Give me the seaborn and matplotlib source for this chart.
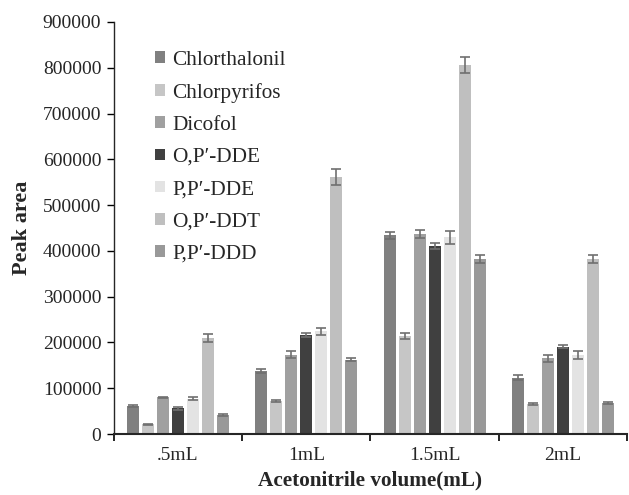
import matplotlib
matplotlib.use("Agg")
import matplotlib.pyplot as plt
import seaborn as sns
import pandas as pd
import numpy as np

volumes = [".5mL", "1mL", "1.5mL", "2mL"]
compounds = ["Chlorthalonil", "Chlorpyrifos", "Dicofol", "O,P\u2032-DDE",
             "P,P\u2032-DDE", "O,P\u2032-DDT", "P,P\u2032-DDD"]
colors = ["#808080", "#c6c6c6", "#a0a0a0", "#404040", "#e3e3e3", "#bfbfbf", "#999999"]

chlorthalonil = [62000, 138000, 434000, 123000]
chlorpyrifos = [21000, 72000, 215000, 65000]
dicofol = [80000, 173000, 437000, 165000]
op_dde = [56000, 216000, 411000, 191000]
pp_dde = [77000, 224000, 430000, 172000]
op_ddt = [210000, 561000, 806000, 383000]
pp_ddd = [41500, 162000, 383000, 68000]

chlorthalonil_err = [2000, 5000, 7000, 5000]
chlorpyrifos_err = [1500, 2000, 6500, 2000]
dicofol_err = [1500, 8000, 9000, 7000]
op_dde_err = [2500, 5000, 6500, 4000]
pp_dde_err = [3000, 8000, 14500, 9000]
op_ddt_err = [9000, 18000, 17000, 9000]
pp_ddd_err = [1500, 3500, 9000, 3000]

values = [chlorthalonil, chlorpyrifos, dicofol, op_dde, pp_dde, op_ddt, pp_ddd]
errors = [chlorthalonil_err, chlorpyrifos_err, dicofol_err, op_dde_err,
          pp_dde_err, op_ddt_err, pp_ddd_err]

rows = []
for c, vals, errs in zip(compounds, values, errors):
    for v, val, e in zip(volumes, vals, errs):
        rows.append({"Volume": v, "Compound": c, "Peak area": val, "err": e})
df = pd.DataFrame(rows)

sns.set_style("ticks")
plt.rcParams['font.family'] = ['Liberation Serif', 'DejaVu Serif']

fig = plt.figure(figsize=(6.29, 4.95), dpi=100)
ax = fig.add_axes([0.181, 0.1232, 0.816, 0.8324])

sns.barplot(data=df, x="Volume", y="Peak area", hue="Compound", order=volumes,
            hue_order=compounds, palette=colors, width=0.82, gap=0.2,
            errorbar=None, saturation=1, ax=ax, linewidth=0)

for cont, c in zip(ax.containers, compounds):
    sub = df[df["Compound"] == c].set_index("Volume").loc[volumes]
    xs = [b.get_x() + b.get_width() / 2 for b in cont]
    ax.errorbar(xs, sub["Peak area"].values, yerr=sub["err"].values, fmt="none",
                ecolor="#6f6f6f", elinewidth=1.2, capsize=3.8, capthick=1.2, zorder=5)

ax.set_ylim(0, 900000)
ax.set_xlim(-0.5, 3.5)
ax.set_yticks(np.arange(0, 900001, 100000))
ax.set_yticklabels([str(int(t)) for t in np.arange(0, 900001, 100000)], fontsize=14)
ax.set_xticks(range(4))
ax.set_xticklabels(volumes, fontsize=14)
ax.tick_params(axis="x", which="major", length=0, pad=9)
ax.set_xticks([-0.5, 0.5, 1.5, 2.5, 3.5], minor=True)
ax.tick_params(axis="x", which="minor", length=5, width=1.2, color="black")
ax.tick_params(axis="y", length=5, width=1, color="black", pad=4)
for s in ["top", "right"]:
    ax.spines[s].set_visible(False)
ax.spines["left"].set_linewidth(1)
ax.spines["bottom"].set_linewidth(1.5)

ax.set_xlabel("Acetonitrile volume(mL)", fontsize=15.3, fontweight="bold", labelpad=5)
ax.set_ylabel("Peak area", fontsize=16, fontweight="bold", labelpad=8)

leg = ax.legend(loc="upper left", bbox_to_anchor=(0.043, 0.977), frameon=False,
                fontsize=15.3, handlelength=0.47, handleheight=0.47, handletextpad=0.35,
                labelspacing=0.62)

fig.savefig("out.png", dpi=100)
